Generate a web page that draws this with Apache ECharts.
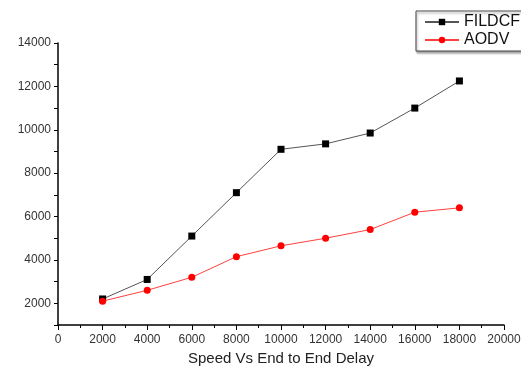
<!DOCTYPE html>
<html>
<head>
<meta charset="utf-8">
<script src="https://cdn.jsdelivr.net/npm/echarts@6/dist/echarts.min.js"></script>
<style>
  html, body { margin: 0; padding: 0; background: #fff; }
  #chart { width: 521px; height: 367px; }
</style>
</head>
<body>
<div id="chart"></div>
<script>
  // speed values on x
  var speeds = [2000, 4000, 6000, 8000, 10000, 12000, 14000, 16000, 18000];
  var fildcf = [2200, 3100, 5100, 7100, 9100, 9350, 9850, 11000, 12250];
  var aodv = [2100, 2600, 3200, 4150, 4650, 5000, 5400, 6200, 6400];

  function pairs(ys) {
    return speeds.map(function (x, i) { return [x, ys[i]]; });
  }

  var chart = echarts.init(document.getElementById('chart'));
  var font = 'Liberation Sans, Arial, sans-serif';
  var option = {
    animation: false,
    backgroundColor: '#fff',
    grid: { left: 58, right: 17, top: 43, bottom: 42, outerBoundsMode: 'none', containLabel: false },
    legend: {
      orient: 'vertical',
      left: 416,
      top: 11,
      borderColor: '#444',
      borderWidth: 1,
      backgroundColor: '#fff',
      shadowColor: 'rgba(0,0,0,0.35)',
      shadowOffsetX: 1,
      shadowOffsetY: 2,
      shadowBlur: 2,
      padding: [3, 60, 3, 8],
      itemGap: 2,
      itemWidth: 34,
      itemHeight: 8,
      textStyle: { fontFamily: font, fontSize: 16, color: '#111' },
      data: ['FILDCF', 'AODV']
    },
    xAxis: {
      type: 'value',
      min: 0,
      max: 20000,
      interval: 2000,
      name: 'Speed Vs End to End Delay',
      nameLocation: 'middle',
      nameGap: 25,
      nameTextStyle: { fontFamily: font, fontSize: 15, color: '#222' },
      axisLine: { lineStyle: { color: '#000', width: 1.5 } },
      axisTick: { length: 5, lineStyle: { color: '#000' } },
      minorTick: { show: true, splitNumber: 2, length: 3, lineStyle: { color: '#000' } },
      axisLabel: {
        fontFamily: font, fontSize: 12, color: '#333', margin: 9,
        formatter: function (v) { return String(v); }
      },
      splitLine: { show: false }
    },
    yAxis: {
      type: 'value',
      min: 1000,
      max: 14000,
      interval: 1000,
      axisLine: { show: true, lineStyle: { color: '#000', width: 1.5 } },
      axisTick: { show: true, length: 4, lineStyle: { color: '#000' } },
      axisLabel: {
        fontFamily: font, fontSize: 12, color: '#333', margin: 7,
        formatter: function (v) { return v % 2000 === 0 ? String(v) : ''; }
      },
      splitLine: { show: false }
    },
    series: [
      {
        name: 'FILDCF',
        type: 'line',
        data: pairs(fildcf),
        symbol: 'rect',
        symbolSize: 7,
        itemStyle: { color: '#000' },
        lineStyle: { color: '#555', width: 1 }
      },
      {
        name: 'AODV',
        type: 'line',
        data: pairs(aodv),
        symbol: 'circle',
        symbolSize: 7,
        itemStyle: { color: '#ff0000' },
        lineStyle: { color: '#ff4040', width: 1 }
      }
    ]
  };
  chart.setOption(option);
</script>
</body>
</html>
